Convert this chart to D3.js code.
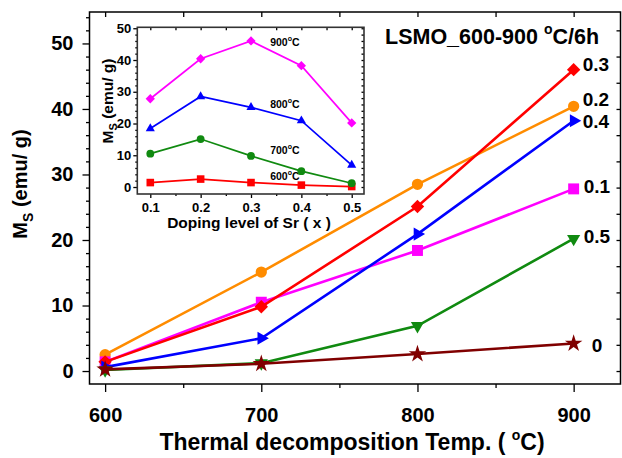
<!DOCTYPE html>
<html>
<head>
<meta charset="utf-8">
<script src="https://cdn.jsdelivr.net/npm/d3@7"></script>
<style>
body { margin: 0; background: #fff; }
text { font-family: "Liberation Sans", Arial, Helvetica, sans-serif; font-weight: bold; fill: #000; }
</style>
</head>
<body>
<script>
// data
var temps = [600, 700, 800, 900];
var dopings = ["0", "0.1", "0.2", "0.3", "0.4", "0.5"];
var ms0  = [0.25, 1.1, 2.6, 4.2];
var ms01 = [1.4, 10.5, 18.4, 27.8];
var ms02 = [2.5, 15.1, 28.5, 40.4];
var ms03 = [1.4, 9.8, 25.1, 46.0];
var ms04 = [0.6, 5.0, 20.9, 38.2];
var ms05 = [0.15, 1.2, 6.9, 20.2];
var xTicks = [600, 700, 800, 900];
var yTicks = [0, 10, 20, 30, 40, 50];
var insetDoping = [0.1, 0.2, 0.3, 0.4, 0.5];
var insetTemps = [600, 700, 800, 900];
var insetYTicks = [0, 10, 20, 30, 40, 50];

var W = 622, H = 458;
var svg = d3.select("body").append("svg")
    .attr("width", W).attr("height", H);

// ---------- main plot ----------
var mLeft = 89.5, mRight = 620.5, mTop = 12, mBottom = 384;
var x = d3.scaleLinear().domain([590, 930]).range([mLeft, mRight]);
var y = d3.scaleLinear().domain([-1.98, 54.8]).range([mBottom, mTop]);

var series = [
    {name: "0.2", vals: ms02, color: "#ff8c00", sym: "circle"},
    {name: "0.1", vals: ms01, color: "#ff00ff", sym: "square"},
    {name: "0.3", vals: ms03, color: "#ff0000", sym: "diamond"},
    {name: "0.4", vals: ms04, color: "#0000ff", sym: "tright"},
    {name: "0.5", vals: ms05, color: "#108a10", sym: "tdown"},
    {name: "0",   vals: ms0,  color: "#800000", sym: "star"}
];
// label nudges next to the last point (layout only)
var labelDx = {"0": 18, "0.1": 10, "0.2": 9, "0.3": 9, "0.4": 9, "0.5": 10};
var labelDy = {"0": 8, "0.1": 4, "0.2": 0, "0.3": 1, "0.4": 7, "0.5": 4};

function symPath(sym, big) {
    var k = big ? 1 : 0.48;
    if (sym == "circle") return d3.symbol(d3.symbolCircle, 100 * k)();
    if (sym == "square") return d3.symbol(d3.symbolSquare, 120 * k)();
    if (sym == "diamond") return d3.symbol(d3.symbolSquare, 90 * k)();
    if (sym == "star") return d3.symbol(d3.symbolStar, 95 * k)();
    return d3.symbol(d3.symbolTriangle, 75 * k)();
}
function symRot(sym) {
    if (sym == "diamond") return 45;
    if (sym == "tright") return 90;
    if (sym == "tdown") return 180;
    return 0;
}

// degree sign as raised small "o"
function degText(t, before, after, fs, sfs) {
    var up = Math.round(fs * 0.45);
    t.append("tspan").text(before);
    t.append("tspan").attr("dy", -up).style("font-size", sfs + "px").text("o");
    t.append("tspan").attr("dy", up).text(after);
}

// axes
function styleAxis(g, fs) {
    g.select(".domain").remove();
    g.selectAll("line").attr("stroke", "#000").attr("stroke-width", 1.3);
    g.selectAll("text").style("font-size", fs + "px");
}
var minorX = [650, 750, 850];
var minorY = d3.range(0, 55, 2).filter(function(d) { return d % 10 != 0; });

svg.append("g").attr("transform", "translate(0," + mBottom + ")")
    .call(d3.axisBottom(x).tickValues(xTicks).tickSize(8).tickPadding(16).tickFormat(d3.format("d")))
    .call(styleAxis, 20);
svg.append("g").attr("transform", "translate(0," + mBottom + ")")
    .call(d3.axisBottom(x).tickValues(minorX).tickSize(4).tickFormat(""))
    .call(styleAxis, 20);
svg.append("g").attr("transform", "translate(0," + mTop + ")")
    .call(d3.axisTop(x).tickValues(xTicks.concat(minorX)).tickSize(-5).tickFormat(""))
    .call(styleAxis, 20);
svg.append("g").attr("transform", "translate(" + mLeft + ",0)")
    .call(d3.axisLeft(y).tickValues(yTicks).tickSize(7).tickPadding(9))
    .call(styleAxis, 20);
svg.append("g").attr("transform", "translate(" + mLeft + ",0)")
    .call(d3.axisLeft(y).tickValues(minorY).tickSize(3.5).tickFormat(""))
    .call(styleAxis, 20);
svg.append("g").attr("transform", "translate(" + mRight + ",0)")
    .call(d3.axisRight(y).tickValues(d3.range(0, 55, 4)).tickSize(-4).tickFormat(""))
    .call(styleAxis, 20);

svg.append("rect")
    .attr("x", mLeft).attr("y", mTop)
    .attr("width", mRight - mLeft).attr("height", mBottom - mTop)
    .attr("fill", "none").attr("stroke", "#000").attr("stroke-width", 1.5);

var line = d3.line()
    .x(function(d, i) { return x(temps[i]); })
    .y(function(d) { return y(d); });

series.forEach(function(s) {
    var g = svg.append("g");
    g.append("path").datum(s.vals)
        .attr("d", line)
        .attr("fill", "none")
        .attr("stroke", s.color)
        .attr("stroke-width", 2.6);
    g.selectAll("path.pt").data(s.vals).enter()
        .append("path").attr("class", "pt")
        .attr("d", symPath(s.sym, true))
        .attr("transform", function(d, i) {
            return "translate(" + x(temps[i]) + "," + y(d) + ") rotate(" + symRot(s.sym) + ")";
        })
        .attr("fill", s.color);
    var last = s.vals[s.vals.length - 1];
    svg.append("text")
        .attr("x", x(temps[temps.length - 1]) + labelDx[s.name])
        .attr("y", y(last) + labelDy[s.name])
        .style("font-size", "19px")
        .text(s.name);
});

// title
var title = svg.append("text").attr("x", 385).attr("y", 43.5).style("font-size", "21.5px");
degText(title, "LSMO_600-900 ", "C/6h", 21.5, 14);

// axis titles
var xl = svg.append("text").attr("x", 352).attr("y", 450)
    .attr("text-anchor", "middle").style("font-size", "23px");
degText(xl, "Thermal decomposition Temp. ( ", "C)", 23, 14);

var yl = svg.append("text")
    .attr("transform", "translate(27,184) rotate(-90)")
    .attr("text-anchor", "middle").style("font-size", "20px");
yl.append("tspan").text("M");
yl.append("tspan").attr("dy", 6).style("font-size", "14px").text("S");
yl.append("tspan").attr("dy", -6).text(" (emu/ g)");

// ---------- inset ----------
var il = 137.3, ir = 364, it = 27.3, ib = 194;
var ix = d3.scaleLinear().domain([0.0742, 0.5244]).range([il, ir]);
var iy = d3.scaleLinear().domain([-2.2, 50.3]).range([ib, it]);

var insetSeries = [
    {temp: 600, color: "#ff0000", sym: "square"},
    {temp: 700, color: "#108a10", sym: "circle"},
    {temp: 800, color: "#0000ff", sym: "tup"},
    {temp: 900, color: "#ff00ff", sym: "diamond"}
];
var byDoping = [ms01, ms02, ms03, ms04, ms05];
// where each temperature label sits, in inset data units
var insetLabelX = [0.338, 0.338, 0.338, 0.338];
var insetLabelY = [2.2, 10.4, 24.9, 44.4];

var imX = [0.15, 0.25, 0.35, 0.45];
var imY = d3.range(0, 51, 2).filter(function(d) { return d % 10 != 0; });

svg.append("g").attr("transform", "translate(0," + ib + ")")
    .call(d3.axisBottom(ix).tickValues(insetDoping).tickSize(4).tickPadding(5).tickFormat(d3.format(".1f")))
    .call(styleAxis, 13);
svg.append("g").attr("transform", "translate(0," + ib + ")")
    .call(d3.axisBottom(ix).tickValues(imX).tickSize(2).tickFormat(""))
    .call(styleAxis, 13);
svg.append("g").attr("transform", "translate(0," + it + ")")
    .call(d3.axisTop(ix).tickValues(insetDoping.concat(imX)).tickSize(-3).tickFormat(""))
    .call(styleAxis, 13);
svg.append("g").attr("transform", "translate(" + il + ",0)")
    .call(d3.axisLeft(iy).tickValues(insetYTicks).tickSize(4).tickPadding(2))
    .call(styleAxis, 13);
svg.append("g").attr("transform", "translate(" + il + ",0)")
    .call(d3.axisLeft(iy).tickValues(imY).tickSize(2).tickFormat(""))
    .call(styleAxis, 13);
svg.append("g").attr("transform", "translate(" + ir + ",0)")
    .call(d3.axisRight(iy).tickValues(imY.concat(insetYTicks)).tickSize(-2.5).tickFormat(""))
    .call(styleAxis, 13);

svg.append("rect")
    .attr("x", il).attr("y", it)
    .attr("width", ir - il).attr("height", ib - it)
    .attr("fill", "none")
    .attr("stroke", "#333").attr("stroke-width", 1.6);

var iline = d3.line()
    .x(function(d, i) { return ix(insetDoping[i]); })
    .y(function(d) { return iy(d); });

insetSeries.forEach(function(s, k) {
    var ti = temps.indexOf(s.temp);
    var vals = byDoping.map(function(arr) { return arr[ti]; });
    svg.append("path").datum(vals)
        .attr("d", iline)
        .attr("fill", "none")
        .attr("stroke", s.color)
        .attr("stroke-width", 1.7);
    svg.selectAll(null).data(vals).enter()
        .append("path")
        .attr("d", symPath(s.sym, false))
        .attr("transform", function(d, i) {
            return "translate(" + ix(insetDoping[i]) + "," + iy(d) + ") rotate(" + symRot(s.sym) + ")";
        })
        .attr("fill", s.color);
    var t = svg.append("text")
        .attr("x", ix(insetLabelX[k])).attr("y", iy(insetLabelY[k]))
        .style("font-size", "10.5px");
    degText(t, String(s.temp), "C", 10.5, 7);
});

svg.append("text").attr("x", 249).attr("y", 228)
    .attr("text-anchor", "middle").style("font-size", "15.5px")
    .text("Doping level of Sr ( x )");

var iyl = svg.append("text")
    .attr("transform", "translate(113,101) rotate(-90)")
    .attr("text-anchor", "middle").style("font-size", "15.5px");
iyl.append("tspan").text("M");
iyl.append("tspan").attr("dy", 4).style("font-size", "11px").text("S");
iyl.append("tspan").attr("dy", -4).text(" (emu/ g)");
</script>
</body>
</html>
